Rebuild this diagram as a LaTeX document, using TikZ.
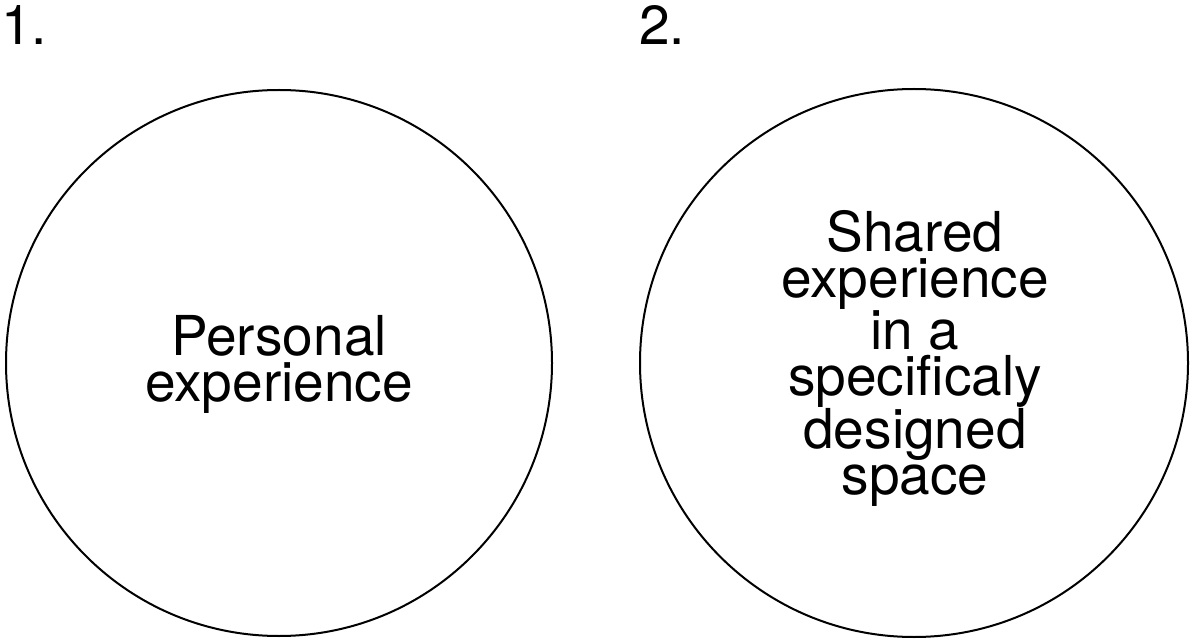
\documentclass[tikz,border=0pt]{standalone}
\usepackage{fontspec}
\setmainfont{TeX Gyre Heros}
\begin{document}
\begin{tikzpicture}[x=1pt,y=1pt,
  ring/.style={draw=black,line width=2pt,circle,inner sep=0pt},
  bigtext/.style={font=\fontsize{55}{46}\selectfont,align=center,inner sep=0pt},
  numlabel/.style={font=\fontsize{55}{46}\selectfont,inner sep=0pt,anchor=base west}]
\useasboundingbox (0,0) rectangle (1192,641);
\node[ring,minimum size=546pt] (c1) at (279,278) {};
\node[ring,minimum size=548pt] (c2) at (914,278) {};
\node[bigtext] (t1) at (279,277) {Personal\\experience};
\node[bigtext] (t2) at (915,282.5) {Shared\\experience\\in a\\specificaly\\designed\\space};
\node[numlabel] (n1) at (1,596) {1.};
\node[numlabel] (n2) at (639,596) {2.};
\end{tikzpicture}
\end{document}
